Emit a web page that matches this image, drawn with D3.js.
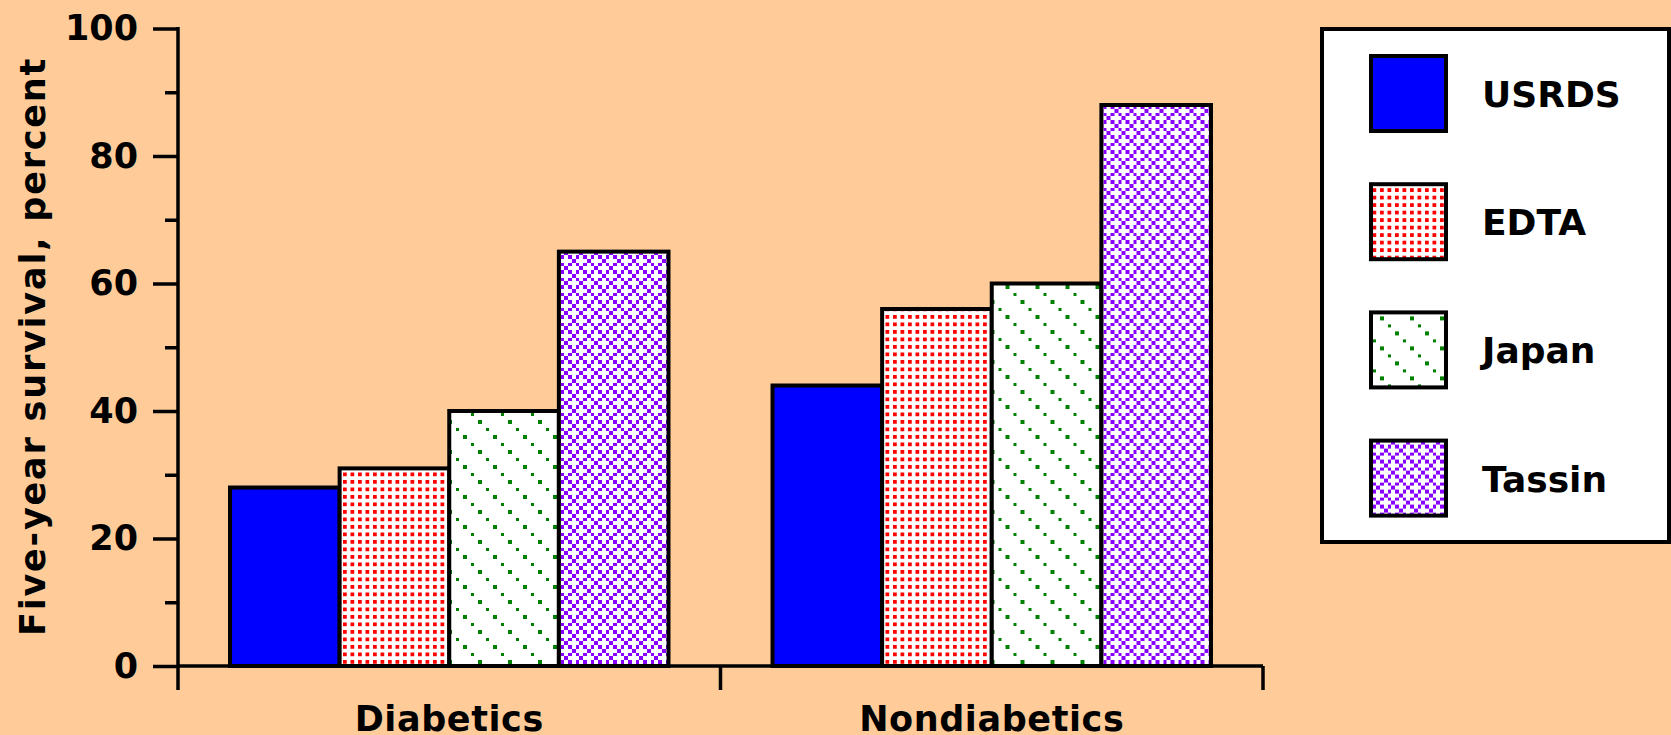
<!DOCTYPE html>
<html>
<head>
<meta charset="utf-8">
<script src="https://cdn.jsdelivr.net/npm/d3@7"></script>
<style>
  html, body { margin: 0; padding: 0; background: #ffcc99; }
  svg { display: block; }
  text { font-family: "DejaVu Sans", sans-serif; font-weight: bold; fill: #000; }
</style>
</head>
<body>
<svg id="chart" width="1671" height="735"></svg>
<script>
// Five-year survival by registry, diabetic vs nondiabetic patients
const categories = ["Diabetics", "Nondiabetics"];
const series = ["USRDS", "EDTA", "Japan", "Tassin"];
const diabetics = [28, 31, 40, 65];
const nondiabetics = [44, 56, 60, 88];
const majorTicks = [0, 20, 40, 60, 80, 100];
const minorTicks = [10, 30, 50, 70, 90];
const yTitle = "Five-year survival, percent";

const values = [diabetics, nondiabetics];
const fills = ["#0000ff", "url(#pat-edta)", "url(#pat-japan)", "url(#pat-tassin)"];

const svg = d3.select("#chart");
const ink = "#000";

// ---- fill patterns (one cell = 3.75px) ----
const cell = 3.75;
const defs = svg.append("defs");
function makePattern(id, cols, rows, color, dots) {
  const p = defs.append("pattern")
    .attr("id", id)
    .attr("patternUnits", "userSpaceOnUse")
    .attr("width", cols * cell)
    .attr("height", rows * cell);
  p.append("rect").attr("width", cols * cell).attr("height", rows * cell).attr("fill", "#fff");
  p.selectAll("rect.dot").data(dots).join("rect")
    .attr("class", "dot")
    .attr("x", d => d[0] * cell)
    .attr("y", d => d[1] * cell)
    .attr("width", cell)
    .attr("height", cell)
    .attr("fill", color)
    .attr("shape-rendering", "crispEdges");
}
makePattern("pat-edta", 2, 2, "#ff0000", [[0, 0]]);
makePattern("pat-japan", 8, 8, "#008000", [[0, 0], [2, 2], [4, 4], [6, 6]]);
makePattern("pat-tassin", 8, 4, "#8800ff",
  [[0, 0], [2, 0], [4, 0], [6, 0], [1, 1], [5, 1], [0, 2], [2, 2], [4, 2], [6, 2], [3, 3], [7, 3]]);

// ---- scales ----
const plotLeft = 178, plotRight = 1263, plotBottom = 666, plotTop = 28.5;
const y = d3.scaleLinear().domain([0, 100]).range([plotBottom, plotTop]);
const x0 = d3.scaleBand().domain(categories).range([plotLeft, plotRight]).padding(0);
const groupPad = 52;
const x1 = d3.scaleBand().domain(series).range([groupPad, x0.bandwidth() - groupPad]).padding(0);

const strokeW = 4;

// ---- bars ----
const groups = svg.append("g").selectAll("g")
  .data(categories)
  .join("g")
  .attr("transform", d => `translate(${x0(d)},0)`);

groups.selectAll("rect")
  .data((c, ci) => series.map((s, si) => ({ s, si, v: values[ci][si] })))
  .join("rect")
  .attr("x", d => x1(d.s))
  .attr("y", d => y(d.v))
  .attr("width", x1.bandwidth())
  .attr("height", d => y(0) - y(d.v))
  .attr("fill", d => fills[d.si])
  .attr("stroke", ink)
  .attr("stroke-width", strokeW);

// ---- y axis ----
const axisW = 3.5;
const yMajor = svg.append("g")
  .attr("transform", `translate(${plotLeft},0)`)
  .call(d3.axisLeft(y).tickValues(majorTicks).tickSize(25).tickPadding(15).tickFormat(d3.format("d")));
yMajor.select(".domain").remove();
yMajor.selectAll(".tick line").attr("stroke", ink).attr("stroke-width", axisW);
yMajor.selectAll(".tick text")
  .attr("font-size", 35)
  .attr("font-family", "DejaVu Sans, sans-serif")
  .attr("font-weight", "bold")
  .attr("fill", ink);

const yMinor = svg.append("g")
  .attr("transform", `translate(${plotLeft},0)`)
  .call(d3.axisLeft(y).tickValues(minorTicks).tickSize(13).tickFormat(""));
yMinor.select(".domain").remove();
yMinor.selectAll(".tick line").attr("stroke", ink).attr("stroke-width", axisW);

// vertical axis line, running a little below the baseline
svg.append("line")
  .attr("x1", plotLeft).attr("x2", plotLeft)
  .attr("y1", y(100) - 1.5).attr("y2", plotBottom + 24)
  .attr("stroke", ink).attr("stroke-width", axisW);

// ---- x axis ----
svg.append("line")
  .attr("x1", plotLeft).attr("x2", plotRight)
  .attr("y1", plotBottom).attr("y2", plotBottom)
  .attr("stroke", ink).attr("stroke-width", axisW);

const bounds = categories.map(c => x0(c) + x0.bandwidth());
svg.append("g").selectAll("line")
  .data(bounds)
  .join("line")
  .attr("x1", d => d).attr("x2", d => d)
  .attr("y1", plotBottom).attr("y2", plotBottom + 24)
  .attr("stroke", ink).attr("stroke-width", axisW);

const xAxis = svg.append("g")
  .attr("transform", `translate(0,${plotBottom})`)
  .call(d3.axisBottom(x0).tickSize(0).tickPadding(40));
xAxis.select(".domain").remove();
xAxis.selectAll(".tick text")
  .attr("font-size", 35)
  .attr("font-family", "DejaVu Sans, sans-serif")
  .attr("font-weight", "bold")
  .attr("letter-spacing", 0.6)
  .attr("fill", ink);

// ---- y title ----
svg.append("text")
  .attr("transform", `translate(45,${(58 + 635) / 2}) rotate(-90)`)
  .attr("text-anchor", "middle")
  .attr("font-size", 35)
  .attr("letter-spacing", 1.8)
  .text(yTitle);

// ---- legend ----
const legend = svg.append("g");
legend.append("rect")
  .attr("x", 1322).attr("y", 29)
  .attr("width", 347).attr("height", 513)
  .attr("fill", "#fff")
  .attr("stroke", ink).attr("stroke-width", strokeW);

const rowStep = 128.2;
const swatchTop = 56, swatchSize = 75;
const items = legend.selectAll("g.item")
  .data(series)
  .join("g")
  .attr("class", "item")
  .attr("transform", (d, i) => `translate(0,${i * rowStep})`);

items.append("rect")
  .attr("x", 1371).attr("y", swatchTop)
  .attr("width", swatchSize).attr("height", swatchSize)
  .attr("fill", (d, i) => fills[i])
  .attr("stroke", ink).attr("stroke-width", strokeW);

items.append("text")
  .attr("x", 1482)
  .attr("y", swatchTop + swatchSize / 2 + 13.5)
  .attr("font-size", 36)
  .text(d => d);
</script>
</body>
</html>
